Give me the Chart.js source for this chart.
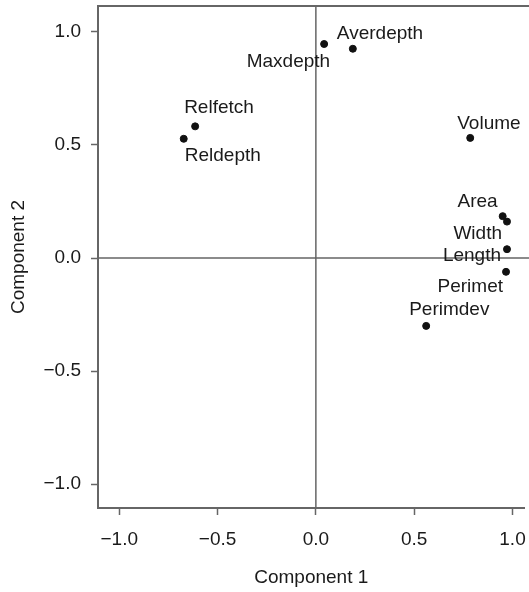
<!DOCTYPE html>
<html>
<head>
<meta charset="utf-8">
<script src="https://cdn.jsdelivr.net/npm/chart.js@4/dist/chart.umd.min.js"></script>
<style>
    body { margin: 0; background: #fff; }
    #wrap { width: 529px; height: 592px; }
</style>
</head>
<body>
<div id="wrap"><canvas id="loadings" width="529" height="592"></canvas></div>
<script>
// variable names and their loadings on the two components
const names = ['Averdepth', 'Maxdepth', 'Relfetch', 'Reldepth', 'Volume', 'Area', 'Width', 'Length', 'Perimet', 'Perimdev'];
const comp1 = [0.188, 0.042, -0.614, -0.672, 0.785, 0.950, 0.972, 0.972, 0.967, 0.561];
const comp2 = [0.925, 0.946, 0.582, 0.527, 0.531, 0.185, 0.161, 0.039, -0.061, -0.300];
const xTicks = [-1.0, -0.5, 0.0, 0.5, 1.0];
const yTicks = [-1.0, -0.5, 0.0, 0.5, 1.0];

// where each label sits relative to its dot: [align, dx, dy]
const labelPlace = [
    ['left', -16, -15],
    ['right', 6, 18],
    ['left', -11, -19],
    ['left', 1, 17],
    ['left', -13, -14],
    ['right', -5, -14],
    ['right', -5, 12],
    ['right', -6, 7],
    ['right', -3, 15],
    ['left', -17, -16]
];

const FONT = 'Liberation Sans, Arial, sans-serif';
const SIZE = 19;
const AXIS = '#666';

function fmt(v) {
    return v.toFixed(1).replace('-', '\u2212');
}

// top border, zero lines and point labels
const extras = {
    id: 'extras',
    beforeDatasetsDraw(chart) {
        const ctx = chart.ctx;
        const a = chart.chartArea;
        const x0 = chart.scales.x.getPixelForValue(0);
        const y0 = chart.scales.y.getPixelForValue(0);
        ctx.save();
        ctx.strokeStyle = AXIS;
        ctx.lineWidth = 1.5;
        ctx.beginPath();
        ctx.moveTo(x0, a.top);
        ctx.lineTo(x0, a.bottom);
        ctx.moveTo(a.left, y0);
        ctx.lineTo(chart.width, y0);
        ctx.stroke();
        ctx.lineWidth = 2;
        ctx.beginPath();
        ctx.moveTo(a.left - 1, a.top);
        ctx.lineTo(chart.width, a.top);
        ctx.stroke();
        ctx.restore();
    },
    afterDatasetsDraw(chart) {
        const ctx = chart.ctx;
        const pts = chart.getDatasetMeta(0).data;
        ctx.save();
        ctx.font = SIZE + 'px ' + FONT;
        ctx.fillStyle = '#1a1a1a';
        ctx.textBaseline = 'middle';
        pts.forEach(function (p, i) {
            const lp = labelPlace[i];
            ctx.textAlign = lp[0];
            ctx.fillText(names[i], p.x + lp[1], p.y + lp[2]);
        });
        ctx.restore();
    }
};

new Chart(document.getElementById('loadings'), {
    type: 'scatter',
    data: {
        datasets: [{
            data: comp1.map((v, i) => ({x: v, y: comp2[i]})),
            backgroundColor: '#111',
            borderColor: '#111',
            pointRadius: 3.5,
            pointHoverRadius: 3.5
        }]
    },
    options: {
        responsive: false,
        animation: false,
        layout: { padding: { top: 6, right: 0, left: 0, bottom: 0 } },
        plugins: { legend: { display: false }, tooltip: { enabled: false } },
        scales: {
            x: {
                type: 'linear',
                min: -1.108,
                max: 1.061,
                afterFit(scale) {
                    scale.height = 84;
                    scale.paddingLeft = 0;
                    scale.paddingRight = 0;
                },
                afterBuildTicks(scale) { scale.ticks = xTicks.map(v => ({value: v})); },
                grid: { drawOnChartArea: false, tickLength: 7, tickColor: AXIS, tickWidth: 1.5 },
                border: { color: AXIS, width: 2 },
                ticks: {
                    includeBounds: false,
                    padding: 13,
                    color: '#1a1a1a',
                    font: { family: FONT, size: SIZE },
                    maxRotation: 0,
                    callback: v => fmt(v)
                },
                title: {
                    display: true,
                    text: 'Component 1',
                    color: '#1a1a1a',
                    font: { family: FONT, size: SIZE },
                    padding: { top: 0, bottom: 3 }
                }
            },
            y: {
                type: 'linear',
                min: -1.105,
                max: 1.114,
                afterFit(scale) {
                    scale.width = 98;
                    scale.paddingTop = 0;
                    scale.paddingBottom = 0;
                },
                afterBuildTicks(scale) { scale.ticks = yTicks.map(v => ({value: v})); },
                grid: { drawOnChartArea: false, tickLength: 7, tickColor: AXIS, tickWidth: 1.5 },
                border: { color: AXIS, width: 2 },
                ticks: {
                    includeBounds: false,
                    padding: 10,
                    color: '#1a1a1a',
                    font: { family: FONT, size: SIZE },
                    callback: v => fmt(v)
                },
                title: {
                    display: true,
                    text: 'Component 2',
                    color: '#1a1a1a',
                    font: { family: FONT, size: SIZE },
                    padding: { top: 7, bottom: 0 }
                }
            }
        }
    },
    plugins: [extras]
});
</script>
</body>
</html>
